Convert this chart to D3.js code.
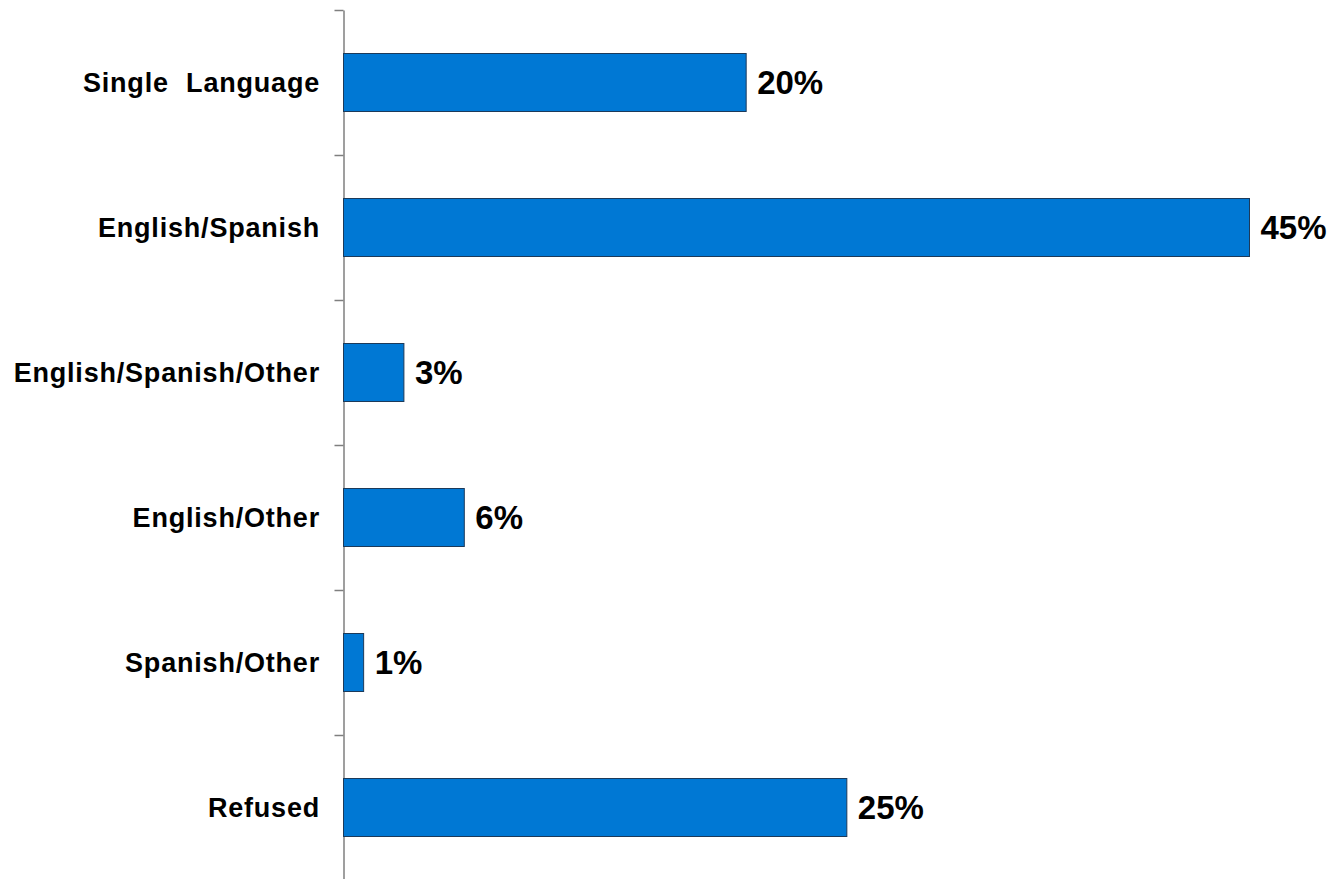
<!DOCTYPE html>
<html>
<head>
<meta charset="utf-8">
<script src="https://cdn.jsdelivr.net/npm/d3@7"></script>
<style>
  body { margin: 0; background: #fff; }
  text { font-family: "Liberation Sans", Arial, sans-serif; font-weight: bold; fill: #000; }
</style>
</head>
<body>
<div id="chart"></div>
<script>
// Data
var categories = ["Single Language", "English/Spanish", "English/Spanish/Other", "English/Other", "Spanish/Other", "Refused"];
var values = [20, 45, 3, 6, 1, 25];

var svg = d3.select("#chart").append("svg")
    .attr("width", 1337)
    .attr("height", 879);

var axisX = 343.5;
var plotTop = 10;
var plotBottom = 880;

// Scales
var xScale = d3.scaleLinear()
    .domain([0, 45])
    .range([axisX, axisX + 906]);
var yScale = d3.scaleBand()
    .domain(categories)
    .range([plotTop, plotBottom])
    .paddingInner(0.6)
    .paddingOuter(0.3);
var tickScale = d3.scaleLinear()
    .domain([0, categories.length])
    .range([plotTop, plotBottom]);

// Axis with ticks between categories
var yAxis = d3.axisLeft(tickScale)
    .tickValues(d3.range(0, categories.length))
    .tickFormat("")
    .tickSize(9)
    .tickSizeOuter(0);
var yAxisG = svg.append("g")
    .attr("transform", "translate(" + axisX + ",0)")
    .call(yAxis);
yAxisG.select(".domain").attr("stroke", "#7f7f7f").attr("stroke-width", 1.5);
yAxisG.selectAll(".tick line").attr("stroke", "#7f7f7f").attr("stroke-width", 1.5);

// Bars
svg.selectAll(".bar")
    .data(values)
    .enter()
    .append("rect")
    .attr("class", "bar")
    .attr("x", xScale(0))
    .attr("y", (d, i) => yScale(categories[i]))
    .attr("width", d => xScale(d) - xScale(0))
    .attr("height", yScale.bandwidth())
    .style("fill", "#0078d4")
    .style("stroke", "#1c3a5a")
    .style("stroke-width", 1);

// Category labels
svg.selectAll(".cat")
    .data(categories)
    .enter()
    .append("text")
    .attr("class", "cat")
    .attr("x", 320)
    .attr("y", d => yScale(d) + yScale.bandwidth() / 2)
    .attr("dy", "0.35em")
    .attr("text-anchor", "end")
    .style("font-size", "27px")
    .style("letter-spacing", "0.8px")
    .style("word-spacing", "9px")
    .text(d => d);

// Value labels
svg.selectAll(".val")
    .data(values)
    .enter()
    .append("text")
    .attr("class", "val")
    .attr("x", d => xScale(d) + 11)
    .attr("y", (d, i) => yScale(categories[i]) + yScale.bandwidth() / 2)
    .attr("dy", "0.36em")
    .style("font-size", "33px")
    .text(d => d + "%");
</script>
</body>
</html>
